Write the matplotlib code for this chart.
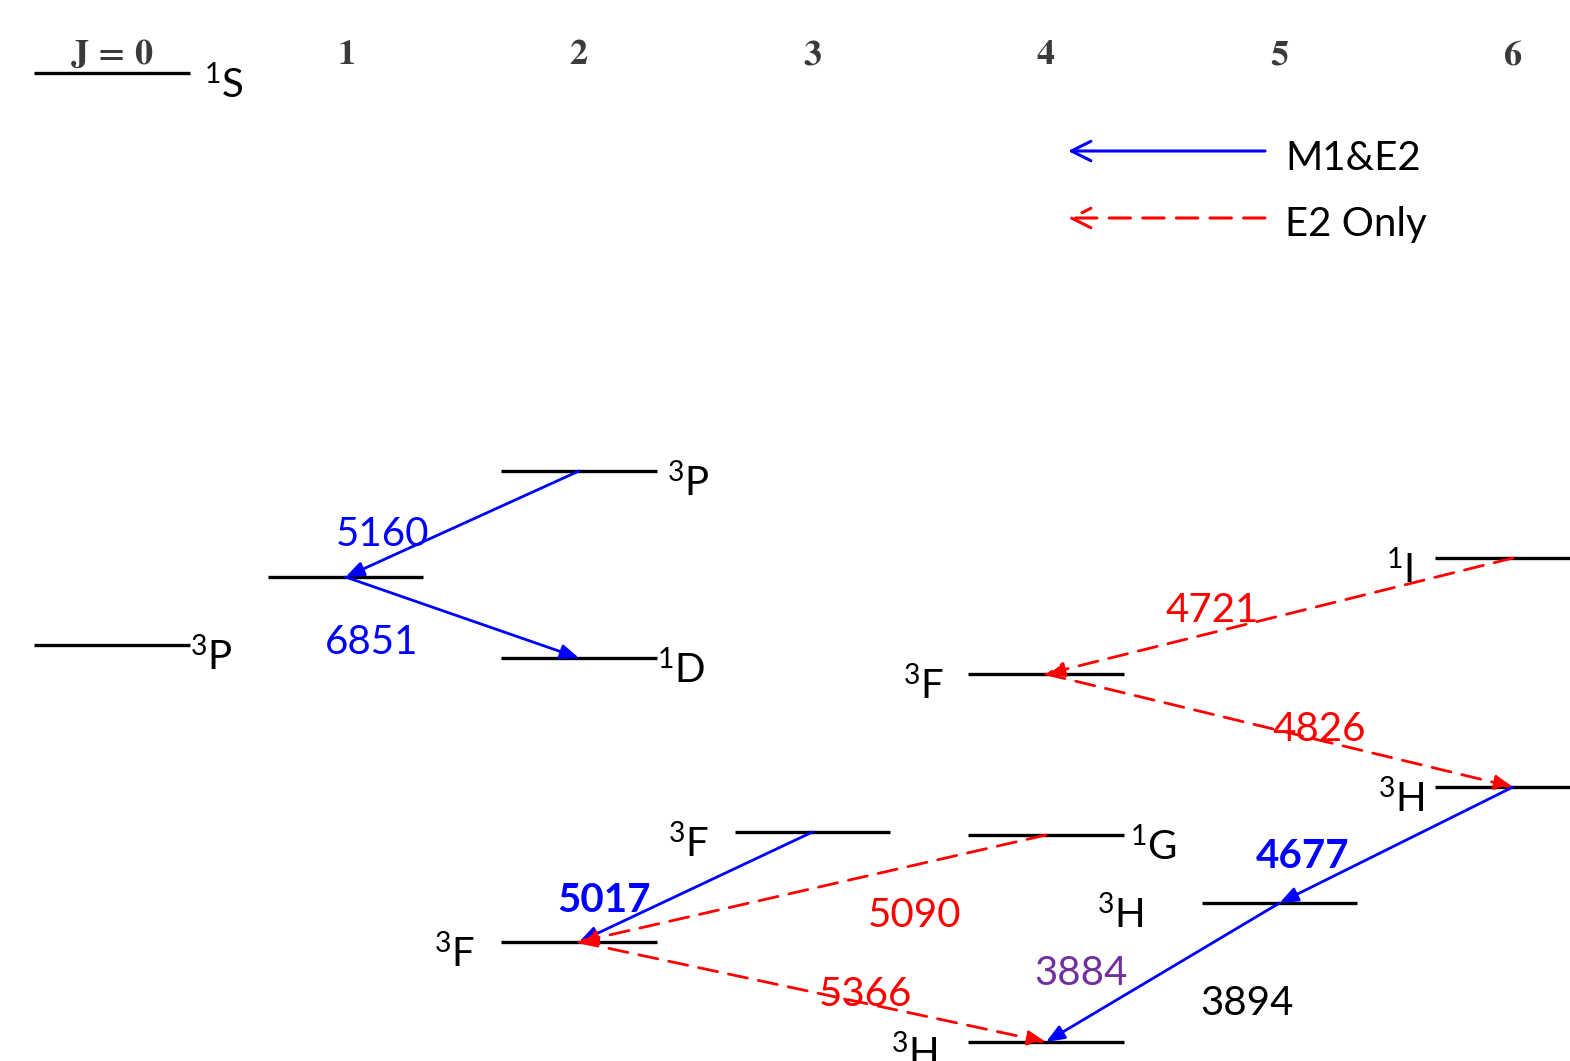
import matplotlib
matplotlib.use("Agg")
import matplotlib.pyplot as plt

plt.rcParams['font.family'] = ['Lato', 'DejaVu Sans']
plt.rcParams['mathtext.fontset'] = 'custom'
plt.rcParams['mathtext.rm'] = 'Lato'
plt.rcParams['mathtext.it'] = 'Lato:italic'
plt.rcParams['mathtext.bf'] = 'Lato:bold'

# ---------------- data ----------------
j_values = [0, 1, 2, 3, 4, 5, 6]
j_labels = [r'$\mathbf{J\,=\,0}$', r'$\mathbf{1}$', r'$\mathbf{2}$', r'$\mathbf{3}$',
            r'$\mathbf{4}$', r'$\mathbf{5}$', r'$\mathbf{6}$']

# levels: J, relative energy (arbitrary units), term label
level_names = ['J0_1S', 'J0_3P', 'J1', 'J2_3P', 'J2_1D', 'J2_3F', 'J3_3F',
               'J4_3F', 'J4_1G', 'J4_3H', 'J5_3H', 'J6_1I', 'J6_3H']
level_J = [0, 0, 1, 2, 2, 2, 3, 4, 4, 4, 5, 6, 6]
level_E = [988, 416, 484, 590, 403, 119, 229, 387, 226, 19, 158, 503, 274]
level_terms = [('1', 'S'), ('3', 'P'), None, ('3', 'P'), ('1', 'D'), ('3', 'F'), ('3', 'F'),
               ('3', 'F'), ('1', 'G'), ('3', 'H'), ('3', 'H'), ('1', 'I'), ('3', 'H')]

# transitions: from level -> to level, wavelength label, type
trans_from = ['J2_3P', 'J1', 'J3_3F', 'J4_1G', 'J2_3F', 'J6_1I', 'J4_3F', 'J6_3H', 'J5_3H']
trans_to = ['J1', 'J2_1D', 'J2_3F', 'J2_3F', 'J4_3H', 'J4_3F', 'J6_3H', 'J5_3H', 'J4_3H']
trans_label = ['5160', '6851', '5017', '5090', '5366', '4721', '4826', '4677', '3884']
trans_type = ['M1&E2', 'M1&E2', 'M1&E2', 'E2', 'E2', 'E2', 'E2', 'M1&E2', 'M1&E2']

extra_label = '3894'

# ---------------- style / layout ----------------
label_side = ['right', 'right', None, 'right', 'right', 'left', 'left',
              'left', 'right', 'left', 'left', 'left', 'left']
label_gap = [14, 0, 0, 10, 0, 26, 26, 24, 6, 30, 58, 22, 10]   # px
half_width = 0.333

# number-label offsets from arrow midpoint (pixels, y up)
num_off = [(-80, -10), (-91, -25), (-92, -13), (102, -27), (53, -2),
           (-67, 5), (40, 1), (-94, -11), (-82, -1)]
num_color = ['blue', 'blue', 'blue', 'red', 'red', 'red', 'red', 'blue', '#7030A0']
num_weight = ['normal', 'normal', 'bold', 'normal', 'normal', 'normal', 'normal', 'bold', 'normal']
extra_off = (84, -31)

W, H = 1570, 1061
fig = plt.figure(figsize=(W / 100, H / 100), dpi=100)
ax = fig.add_axes([0, 0, 1, 1])
ax.set_xlim(-112 / 233.5, (W - 112) / 233.5)
ax.set_ylim(0, H)
ax.axis('off')

# top J labels
for j, lab in zip(j_values, j_labels):
    ax.text(j, 1 - 54 / H, lab, transform=ax.get_xaxis_transform(), ha='center', va='center',
            fontsize=26, color='#3a3a3a', math_fontfamily='stix')

FS = 29
lev = {}
for name, J, E, term, side, gap in zip(level_names, level_J, level_E, level_terms,
                                       label_side, label_gap):
    lev[name] = (J, E)
    ax.plot([J - half_width, J + half_width], [E, E], color='black', lw=2.4,
            solid_capstyle='butt', zorder=2)
    if term is not None:
        s = r'$^{%s}$%s' % term
        if side == 'right':
            ax.annotate(s, xy=(J + half_width, E), xytext=(gap, -25),
                        textcoords='offset pixels', ha='left', va='baseline',
                        fontsize=FS, color='black')
        else:
            ax.annotate(s, xy=(J - half_width, E), xytext=(-gap, -25),
                        textcoords='offset pixels', ha='right', va='baseline',
                        fontsize=FS, color='black')

solid_style = dict(arrowstyle='-|>,head_length=0.55,head_width=0.22', color='blue',
                   lw=2.0, shrinkA=0, shrinkB=0, mutation_scale=20)
dash_style = dict(arrowstyle='-|>,head_length=0.55,head_width=0.22', color='red',
                  lw=2.0, shrinkA=0, shrinkB=0, mutation_scale=20,
                  linestyle=(0, (7, 4)))

for i, (a, b, lab, tp) in enumerate(zip(trans_from, trans_to, trans_label, trans_type)):
    x0, y0 = lev[a]
    x1, y1 = lev[b]
    props = solid_style if tp == 'M1&E2' else dash_style
    ax.annotate('', xy=(x1, y1), xytext=(x0, y0), arrowprops=props, zorder=3)
    mx, my = (x0 + x1) / 2, (y0 + y1) / 2
    ax.annotate(lab, xy=(mx, my), xytext=num_off[i], textcoords='offset pixels',
                ha='center', va='center', fontsize=FS, color=num_color[i],
                fontweight=num_weight[i], zorder=4)
    if i == len(trans_from) - 1:
        ax.annotate(extra_label, xy=(mx, my), xytext=extra_off, textcoords='offset pixels',
                    ha='center', va='center', fontsize=FS, color='black', zorder=4)

# legend
leg_x0, leg_x1 = 1068 / W, 1265 / W
for yy, color, ls, txt in [(1 - 151 / H, 'blue', '-', 'M1&E2'),
                           (1 - 218 / H, 'red', (0, (7, 4)), 'E2 Only')]:
    ax.annotate('', xy=(leg_x0, yy), xytext=(leg_x1, yy), xycoords='axes fraction',
                textcoords='axes fraction',
                arrowprops=dict(arrowstyle='->,head_length=0.7,head_width=0.35',
                                color=color, lw=2.2, linestyle=ls, shrinkA=0, shrinkB=0,
                                mutation_scale=20))
    ax.text(1285 / W, yy - 7 / H, txt, transform=ax.transAxes, ha='left', va='center',
            fontsize=FS, color='black')

fig.savefig('out.png', dpi=100)
